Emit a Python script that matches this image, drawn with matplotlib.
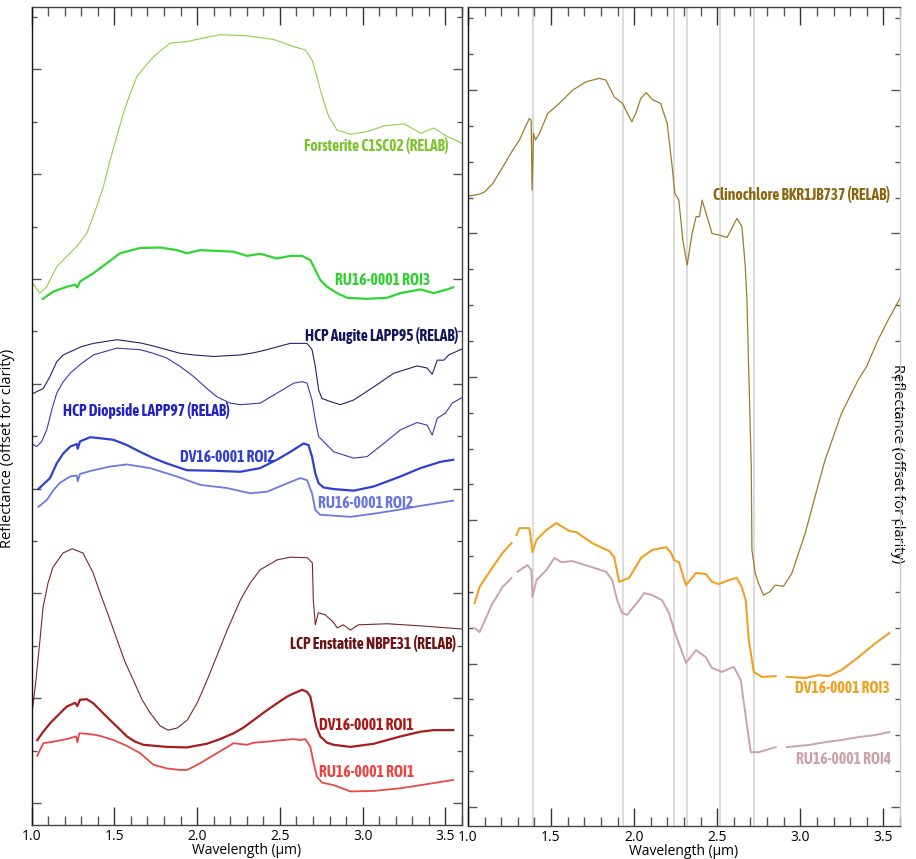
import numpy as np
import matplotlib
matplotlib.use("Agg")
import matplotlib.pyplot as plt
from matplotlib.ticker import MultipleLocator

nan = np.nan

# ---- left panel: olivine / pyroxene spectra (offset units, 1 = one minor tick) ----
fo_wl = [1.000, 1.051, 1.092, 1.152, 1.213, 1.273, 1.334, 1.394, 1.434, 1.475, 1.515, 1.555,
         1.596, 1.636, 1.676, 1.737, 1.797, 1.837, 1.938, 2.059, 2.140, 2.301, 2.462, 2.586,
         2.654, 2.694, 2.724, 2.744, 2.775, 2.795, 2.845, 2.926, 3.027, 3.127, 3.251, 3.349,
         3.429, 3.510, 3.580, 3.600]
fo_r = [9.94, 9.73, 9.85, 10.23, 10.43, 10.62, 10.87, 11.38, 11.76, 12.27, 12.72, 13.16,
        13.54, 13.86, 14.02, 14.24, 14.40, 14.50, 14.53, 14.61, 14.66, 14.64, 14.57, 14.43,
        14.37, 14.18, 13.86, 13.61, 13.29, 13.10, 12.84, 12.76, 12.81, 12.92, 12.96, 12.78,
        12.88, 12.72, 12.62, 12.58]

ru3_wl = [1.068, 1.132, 1.213, 1.263, 1.277, 1.293, 1.374, 1.455, 1.535, 1.656, 1.777, 1.878,
          1.938, 2.019, 2.220, 2.301, 2.381, 2.482, 2.563, 2.634, 2.684, 2.714, 2.744, 2.785,
          2.845, 2.906, 3.027, 3.148, 3.228, 3.349, 3.429, 3.510, 3.547]
ru3_r = [9.62, 9.76, 9.85, 9.89, 9.84, 9.95, 10.11, 10.30, 10.49, 10.59, 10.60, 10.55, 10.49,
         10.55, 10.52, 10.44, 10.48, 10.39, 10.44, 10.44, 10.36, 10.17, 9.98, 9.85, 9.73, 9.64,
         9.62, 9.64, 9.73, 9.80, 9.73, 9.80, 9.84]

aug_wl = [1.000, 1.071, 1.112, 1.152, 1.192, 1.233, 1.303, 1.374, 1.515, 1.656, 1.736, 1.817,
          1.898, 1.978, 2.099, 2.261, 2.341, 2.422, 2.502, 2.563, 2.664, 2.694, 2.714, 2.734,
          2.754, 2.805, 2.865, 2.946, 3.067, 3.187, 3.329, 3.389, 3.420, 3.450, 3.490, 3.520,
          3.590, 3.600]
aug_r = [7.80, 7.91, 8.14, 8.42, 8.55, 8.61, 8.71, 8.77, 8.84, 8.78, 8.72, 8.65, 8.58, 8.55,
         8.52, 8.55, 8.59, 8.65, 8.72, 8.77, 8.77, 8.65, 8.33, 7.88, 7.72, 7.66, 7.60, 7.69,
         7.94, 8.20, 8.34, 8.30, 8.18, 8.45, 8.45, 8.55, 8.65, 8.66]

dio_wl = [1.000, 1.031, 1.062, 1.092, 1.122, 1.152, 1.192, 1.233, 1.303, 1.374, 1.515, 1.656,
          1.736, 1.817, 1.898, 1.978, 2.059, 2.120, 2.200, 2.261, 2.381, 2.482, 2.583, 2.634,
          2.664, 2.694, 2.714, 2.734, 2.754, 2.825, 2.946, 3.027, 3.127, 3.228, 3.329, 3.389,
          3.420, 3.450, 3.500, 3.541, 3.590, 3.600]
dio_r = [6.86, 6.80, 6.90, 7.12, 7.50, 7.82, 8.04, 8.20, 8.39, 8.55, 8.68, 8.65, 8.58, 8.49,
         8.33, 8.14, 7.91, 7.75, 7.63, 7.60, 7.63, 7.82, 8.01, 8.04, 8.01, 7.69, 7.31, 6.99,
         6.93, 6.70, 6.58, 6.61, 6.86, 7.12, 7.26, 7.21, 7.02, 7.34, 7.44, 7.63, 7.72, 7.73]

dv2_wl = [1.041, 1.112, 1.152, 1.192, 1.233, 1.273, 1.279, 1.293, 1.354, 1.414, 1.495, 1.576,
          1.656, 1.736, 1.817, 1.938, 2.099, 2.261, 2.381, 2.482, 2.563, 2.643, 2.673, 2.694,
          2.714, 2.734, 2.764, 2.825, 2.946, 3.067, 3.228, 3.349, 3.470, 3.547]
dv2_r = [5.99, 6.20, 6.48, 6.67, 6.80, 6.85, 6.76, 6.90, 6.98, 6.96, 6.93, 6.83, 6.70, 6.58,
         6.48, 6.35, 6.34, 6.32, 6.39, 6.55, 6.70, 6.86, 6.83, 6.61, 6.29, 6.10, 6.02, 5.99,
         5.96, 6.04, 6.23, 6.39, 6.51, 6.55]

ru2_wl = [1.041, 1.092, 1.132, 1.172, 1.233, 1.273, 1.279, 1.293, 1.374, 1.475, 1.576, 1.716,
          1.878, 2.019, 2.180, 2.321, 2.422, 2.522, 2.623, 2.664, 2.694, 2.714, 2.744, 2.926,
          3.087, 3.228, 3.349, 3.429, 3.547]
ru2_r = [5.65, 5.78, 5.97, 6.11, 6.23, 6.25, 6.14, 6.28, 6.35, 6.42, 6.46, 6.39, 6.23, 6.07,
         6.01, 5.91, 5.94, 6.07, 6.20, 6.16, 5.91, 5.59, 5.50, 5.46, 5.53, 5.60, 5.67, 5.71,
         5.77]

ens_wl = [1.000, 1.027, 1.051, 1.070, 1.100, 1.130, 1.190, 1.245, 1.311, 1.372, 1.414, 1.463,
          1.517, 1.565, 1.614, 1.668, 1.716, 1.777, 1.825, 1.880, 1.940, 2.001, 2.061, 2.121,
          2.182, 2.261, 2.321, 2.381, 2.484, 2.563, 2.666, 2.696, 2.702, 2.714, 2.732, 2.774,
          2.823, 2.847, 2.883, 2.926, 2.974, 3.149, 3.349, 3.600]
ens_r = [1.64, 2.35, 3.11, 3.74, 4.20, 4.50, 4.77, 4.85, 4.77, 4.39, 4.01, 3.59, 3.11, 2.69,
         2.35, 1.97, 1.72, 1.47, 1.39, 1.43, 1.58, 1.91, 2.35, 2.82, 3.30, 3.87, 4.20, 4.45,
         4.64, 4.69, 4.68, 4.58, 3.87, 3.40, 3.63, 3.59, 3.45, 3.34, 3.40, 3.30, 3.40, 3.42,
         3.38, 3.32]

dv1_wl = [1.035, 1.071, 1.112, 1.162, 1.213, 1.263, 1.277, 1.293, 1.334, 1.374, 1.424, 1.475,
          1.525, 1.576, 1.626, 1.676, 1.817, 1.938, 2.059, 2.140, 2.220, 2.281, 2.341, 2.422,
          2.482, 2.543, 2.583, 2.634, 2.664, 2.684, 2.704, 2.720, 2.744, 2.785, 2.825, 2.926,
          3.067, 3.228, 3.349, 3.429, 3.547]
dv1_r = [1.20, 1.36, 1.52, 1.68, 1.84, 1.91, 1.85, 1.97, 1.98, 1.90, 1.74, 1.58, 1.43, 1.27,
         1.17, 1.11, 1.07, 1.06, 1.13, 1.22, 1.33, 1.44, 1.58, 1.77, 1.90, 2.03, 2.09, 2.16,
         2.12, 2.03, 1.71, 1.46, 1.27, 1.15, 1.11, 1.07, 1.13, 1.27, 1.36, 1.39, 1.39]

ru1_wl = [1.035, 1.051, 1.071, 1.132, 1.213, 1.269, 1.277, 1.289, 1.334, 1.384, 1.414, 1.495,
          1.576, 1.656, 1.736, 1.817, 1.898, 1.938, 1.978, 2.019, 2.120, 2.220, 2.301, 2.341,
          2.422, 2.482, 2.583, 2.623, 2.654, 2.684, 2.704, 2.724, 2.754, 2.825, 2.926, 3.067,
          3.228, 3.389, 3.547]
ru1_r = [0.90, 1.01, 1.14, 1.17, 1.22, 1.27, 1.16, 1.33, 1.32, 1.30, 1.28, 1.20, 1.09, 0.95,
         0.73, 0.66, 0.63, 0.63, 0.69, 0.76, 0.95, 1.14, 1.11, 1.15, 1.17, 1.19, 1.22, 1.20,
         1.22, 1.07, 0.76, 0.50, 0.39, 0.34, 0.22, 0.23, 0.28, 0.36, 0.44]

# ---- right panel: phyllosilicate comparison ----
cln_wl = [1.000, 1.070, 1.100, 1.150, 1.210, 1.270, 1.310, 1.350, 1.370, 1.380, 1.386, 1.394,
          1.406, 1.430, 1.480, 1.550, 1.630, 1.710, 1.790, 1.830, 1.880, 1.930, 1.960, 1.986,
          2.010, 2.040, 2.073, 2.109, 2.159, 2.199, 2.229, 2.245, 2.269, 2.293, 2.319, 2.349,
          2.373, 2.393, 2.409, 2.439, 2.469, 2.509, 2.559, 2.619, 2.649, 2.669, 2.679, 2.689,
          2.705, 2.709, 2.729, 2.749, 2.779, 2.819, 2.849, 2.899, 2.949, 3.029, 3.089, 3.149,
          3.248, 3.348, 3.398, 3.468, 3.528, 3.584, 3.600]
cln_r = [17.04, 17.10, 17.16, 17.40, 17.86, 18.33, 18.61, 19.02, 19.21, 19.16, 17.21, 18.79,
         18.61, 18.79, 19.35, 19.63, 20.00, 20.23, 20.33, 20.28, 19.81, 19.63, 19.35, 19.12,
         19.35, 19.77, 19.93, 19.74, 19.63, 19.07, 17.86, 17.12, 16.93, 15.82, 15.12, 16.00,
         16.47, 16.47, 16.93, 16.47, 16.00, 15.96, 15.89, 16.42, 16.19, 15.07, 14.14, 12.28,
         9.49, 7.17, 6.52, 6.24, 5.91, 6.01, 6.19, 6.16, 6.52, 7.63, 8.66, 9.68, 10.98, 11.91,
         12.28, 13.03, 13.58, 14.05, 14.20]

dv3_wl = [1.040, 1.070, 1.148, 1.208, 1.262, 1.275, 1.292, 1.310, 1.370, 1.388, 1.412, 1.472,
          1.532, 1.610, 1.652, 1.748, 1.850, 1.880, 1.910, 1.970, 2.042, 2.108, 2.192, 2.222,
          2.240, 2.270, 2.312, 2.372, 2.432, 2.468, 2.510, 2.570, 2.618, 2.648, 2.672, 2.690,
          2.720, 2.768, 2.852, 2.880, 2.918, 3.032, 3.110, 3.170, 3.248, 3.350, 3.452, 3.536]
dv3_r = [5.69, 6.14, 6.69, 7.09, 7.36, nan, 7.59, 7.78, 7.78, 7.11, 7.45, 7.73, 7.92, 7.70,
         7.67, 7.36, 7.14, 6.97, 6.28, 6.39, 6.95, 7.17, 7.25, 7.09, 6.89, 6.83, 6.19, 6.53,
         6.50, 6.28, 6.22, 6.33, 6.39, 6.14, 5.77, 4.66, 3.77, 3.63, 3.65, nan, 3.63, 3.60,
         3.68, 3.65, 3.82, 4.18, 4.57, 4.85]

ru4_wl = [1.040, 1.070, 1.148, 1.160, 1.208, 1.262, 1.280, 1.298, 1.358, 1.382, 1.388, 1.412,
          1.472, 1.520, 1.562, 1.628, 1.748, 1.832, 1.868, 1.898, 1.928, 1.958, 2.030, 2.060,
          2.108, 2.168, 2.210, 2.240, 2.312, 2.372, 2.432, 2.468, 2.528, 2.600, 2.642, 2.672,
          2.702, 2.750, 2.852, 2.880, 2.918, 3.050, 3.152, 3.248, 3.350, 3.452, 3.536]
ru4_r = [4.99, 4.88, 5.69, 5.77, 6.14, 6.39, nan, 6.56, 6.75, 6.61, 5.86, 6.33, 6.61, 6.95,
         6.83, 6.86, 6.69, 6.56, 6.33, 5.77, 5.41, 5.36, 5.77, 5.97, 5.91, 5.77, 5.41, 4.94,
         4.02, 4.38, 4.18, 3.88, 3.77, 3.91, 3.54, 2.51, 1.53, 1.53, 1.67, nan, 1.67, 1.73,
         1.81, 1.87, 1.95, 2.01, 2.09]

band_centers = [1.39, 1.93, 2.24, 2.32, 2.515, 2.72]

FONT_LBL = ["Asap Condensed", "Barlow Condensed", "DejaVu Sans"]
FONT_AX = ["Open Sans", "DejaVu Sans"]

fig = plt.figure(figsize=(9.16, 8.59), dpi=100)
axL = fig.add_axes([0.0344, 0.0396, 0.4700, 0.9523])
axR = fig.add_axes([0.5109, 0.0384, 0.4716, 0.9535])

# left panel spectra: (wl, refl, colour, width, label, label colour, label pos, align)
left = [
    (fo_wl, fo_r, "#8fd045", 0.8, "Forsterite C1SC02 (RELAB)", "#7cc52e", 3.518, 12.54, "right"),
    (ru3_wl, ru3_r, "#2fd62f", 1.6, "RU16-0001 ROI3", "#2fd02f", 3.409, 9.98, "right"),
    (aug_wl, aug_r, "#22226a", 0.8, "HCP Augite LAPP95 (RELAB)", "#15155e", 3.578, 8.93, "right"),
    (dio_wl, dio_r, "#3a3aa8", 0.8, "HCP Diopside LAPP97 (RELAB)", "#2222c0", 1.190, 7.48, "left"),
    (dv2_wl, dv2_r, "#2f3fd2", 1.6, "DV16-0001 ROI2", "#2f3fd2", 1.898, 6.60, "left"),
    (ru2_wl, ru2_r, "#6a7ae0", 1.3, "RU16-0001 ROI2", "#6676de", 2.732, 5.73, "left"),
    (ens_wl, ens_r, "#74282a", 0.8, "LCP Enstatite NBPE31 (RELAB)", "#6a1414", 3.566, 3.05, "right"),
    (dv1_wl, dv1_r, "#a81c1c", 1.6, "DV16-0001 ROI1", "#a81818", 2.738, 1.49, "left"),
    (ru1_wl, ru1_r, "#e84848", 1.3, "RU16-0001 ROI1", "#e84646", 2.738, 0.59, "left"),
]
for wl, r, c, lw, name, tc, tx, ty, ha in left:
    axL.plot(wl, r, color=c, lw=lw)
    axL.text(tx, ty, name, color=tc, ha=ha, va="center", fontsize=11.2,
             fontweight="bold", family=FONT_LBL)

for x in band_centers:
    axR.axvline(x, color="#d6d6d6", lw=1.2, zorder=0)

right = [
    (cln_wl, cln_r, "#9c7c2c", 0.9, "Clinochlore BKR1JB737 (RELAB)", "#8c6612", 3.540, 17.10),
    (dv3_wl, dv3_r, "#f0a024", 1.5, "DV16-0001 ROI3", "#f0a020", 3.540, 3.32),
    (ru4_wl, ru4_r, "#caa2ab", 1.4, "RU16-0001 ROI4", "#c9a2aa", 3.545, 1.34),
]
for wl, r, c, lw, name, tc, tx, ty in right:
    axR.plot(wl, r, color=c, lw=lw)
    axR.text(tx, ty, name, color=tc, ha="right", va="center", fontsize=11.2,
             fontweight="bold", family=FONT_LBL)

axL.set_ylim(-0.42, 15.19)
axR.set_ylim(-0.53, 22.32)
axL.yaxis.set_major_locator(MultipleLocator(2))
axL.yaxis.set_minor_locator(MultipleLocator(1))
axR.yaxis.set_major_locator(MultipleLocator(4))
axR.yaxis.set_minor_locator(MultipleLocator(1))

for ax in (axL, axR):
    ax.set_xlim(1.0, 3.6)
    ax.xaxis.set_major_locator(MultipleLocator(0.5))
    ax.xaxis.set_minor_locator(MultipleLocator(0.1))
    ax.tick_params(axis="x", which="major", direction="in", top=True, bottom=True,
                   length=13, width=1, color="#333333", pad=3, labelsize=10)
    ax.tick_params(axis="x", which="minor", direction="in", top=True, bottom=True,
                   length=6.5, width=1, color="#555555")
    ax.tick_params(axis="y", which="major", direction="in", left=True, right=True,
                   length=6.5, width=1, color="#555555", labelleft=False)
    ax.tick_params(axis="y", which="minor", direction="in", left=True, right=True,
                   length=3.5, width=1, color="#555555")
    for lbl in ax.get_xticklabels():
        lbl.set_family(FONT_AX)
    for sp in ax.spines.values():
        sp.set_color("#444444")
        sp.set_linewidth(1.0)
    ax.set_xlabel("Wavelength (\u00b5m)", fontsize=10, family=FONT_AX, labelpad=-1)

axL.spines["left"].set_color("#111111")
axR.spines["left"].set_color("#111111")
axR.spines["right"].set_color("#c8c8c8")

axL.set_ylabel("Reflectance (offset for clarity)", fontsize=10.5, family=FONT_AX)
axL.yaxis.set_label_coords(-0.038, 0.46)
axR.set_ylabel("Reflectance (offset for clarity)", fontsize=10.5, family=FONT_AX,
               rotation=-90, va="center")
axR.yaxis.set_label_position("right")
axR.yaxis.set_label_coords(1.012, 0.442)

fig.savefig("out.png", dpi=100)
